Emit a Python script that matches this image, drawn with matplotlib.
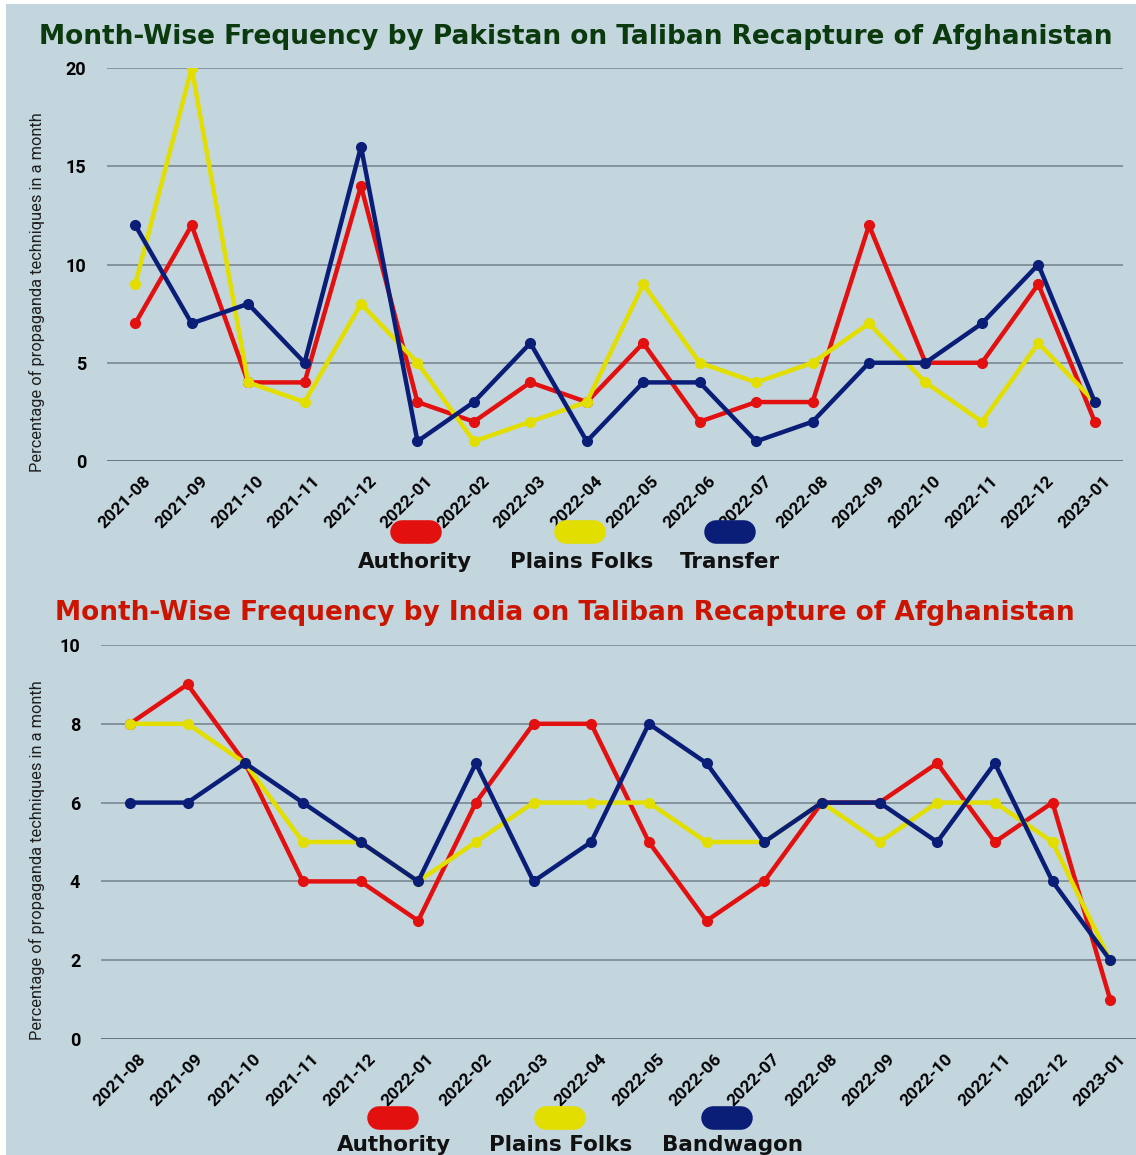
import matplotlib
matplotlib.use("Agg")
import matplotlib.pyplot as plt
from matplotlib.lines import Line2D
from matplotlib.patches import Rectangle
from matplotlib.transforms import ScaledTranslation

months = ["2021-08", "2021-09", "2021-10", "2021-11", "2021-12", "2022-01",
          "2022-02", "2022-03", "2022-04", "2022-05", "2022-06", "2022-07",
          "2022-08", "2022-09", "2022-10", "2022-11", "2022-12", "2023-01"]

# Pakistan
pak_authority = [7, 12, 4, 4, 14, 3, 2, 4, 3, 6, 2, 3, 3, 12, 5, 5, 9, 2]
pak_plains = [9, 20, 4, 3, 8, 5, 1, 2, 3, 9, 5, 4, 5, 7, 4, 2, 6, 3]
pak_transfer = [12, 7, 8, 5, 16, 1, 3, 6, 1, 4, 4, 1, 2, 5, 5, 7, 10, 3]

# India
ind_authority = [8, 9, 7, 4, 4, 3, 6, 8, 8, 5, 3, 4, 6, 6, 7, 5, 6, 1]
ind_plains = [8, 8, 7, 5, 5, 4, 5, 6, 6, 6, 5, 5, 6, 5, 6, 6, 5, 2]
ind_bandwagon = [6, 6, 7, 6, 5, 4, 7, 4, 5, 8, 7, 5, 6, 6, 5, 7, 4, 2]

RED = "#e31010"
YELLOW = "#e2df00"
NAVY = "#0a1e78"
BG = "#c3d5dd"

W, H = 1136, 1155
fig = plt.figure(figsize=(W / 100, H / 100), dpi=100)
fig.patch.set_facecolor("white")
fig.add_artist(Rectangle((6 / W, 0), 1, 1 - 4 / H, transform=fig.transFigure,
                         facecolor=BG, edgecolor="none", zorder=-10))

narrow = ["Roboto", "DejaVu Sans"]


def px(x, y):
    return x / W, 1 - y / H


def make_axes(left, right, top, bottom):
    ax = fig.add_axes([left / W, 1 - bottom / H, (right - left) / W, (bottom - top) / H])
    ax.set_facecolor("none")
    for s in ax.spines.values():
        s.set_visible(False)
    ax.tick_params(length=0)
    return ax


def draw(ax, series, ymax, step):
    x = list(range(len(months)))
    for vals, c in series:
        ax.plot(x, vals, color=c, lw=3.2, marker="o", ms=7, zorder=3,
                solid_capstyle="round")
    ax.set_xlim(-0.5, len(months) - 0.5)
    ax.set_ylim(0, ymax)
    ticks = list(range(0, ymax + 1, step))
    ax.set_yticks(ticks)
    ax.set_yticklabels([str(t) for t in ticks], family=narrow, fontweight="bold", fontsize=13)
    for t in ticks:
        ax.axhline(t, color="#5f6d77" if t == 0 else "#7f8e98", lw=1.3, zorder=1)
    ax.set_xticks(x)
    ax.set_xticklabels(months, rotation=45, ha="right", rotation_mode="anchor",
                       family=narrow, fontweight="bold", fontsize=12.5)
    ax.tick_params(axis="x", pad=9)
    ax.tick_params(axis="y", pad=15)
    shift = ScaledTranslation(8 / 100, 0, fig.dpi_scale_trans)
    for lab in ax.get_xticklabels():
        lab.set_transform(lab.get_transform() + shift)


def legend(items, y_pill, y_text):
    for label, c, xp, xt in items:
        x0, y0 = px(xp - 14, y_pill)
        x1, _ = px(xp + 14, y_pill)
        fig.add_artist(Line2D([x0, x1], [y0, y0], transform=fig.transFigure,
                              color=c, lw=17, solid_capstyle="round"))
        fx, fy = px(xt, y_text)
        fig.text(fx, fy, label, ha="center", va="center", fontsize=15.5,
                 fontweight="bold", color="#111111")


def ylabel(y):
    fx, fy = px(37, y)
    fig.text(fx, fy, "Percentage of propaganda techniques in a month", rotation=90,
             ha="center", va="center", fontsize=11.8, family=narrow,
             color="#1e1e1e")


# top chart
ax1 = make_axes(107, 1123, 68, 461)
draw(ax1, [(pak_authority, RED), (pak_plains, YELLOW), (pak_transfer, NAVY)], 20, 5)
fx, fy = px(576, 37)
fig.text(fx, fy, "Month-Wise Frequency by Pakistan on Taliban Recapture of Afghanistan",
         ha="center", va="center", fontsize=19, fontweight="bold", color="#0b3a0e")
ylabel(292)
legend([("Authority", RED, 416, 415), ("Plains Folks", YELLOW, 580, 582),
        ("Transfer", NAVY, 730, 730)], 532, 562)

# bottom chart
ax2 = make_axes(101, 1139, 645, 1039)
draw(ax2, [(ind_authority, RED), (ind_plains, YELLOW), (ind_bandwagon, NAVY)], 10, 2)
fx, fy = px(565, 613)
fig.text(fx, fy, "Month-Wise Frequency by India on Taliban Recapture of Afghanistan",
         ha="center", va="center", fontsize=19, fontweight="bold", color="#cc1500")
ylabel(860)
legend([("Authority", RED, 393, 394), ("Plains Folks", YELLOW, 560, 561),
        ("Bandwagon", NAVY, 727, 732)], 1118, 1145)

fig.savefig("out.png", dpi=100)
